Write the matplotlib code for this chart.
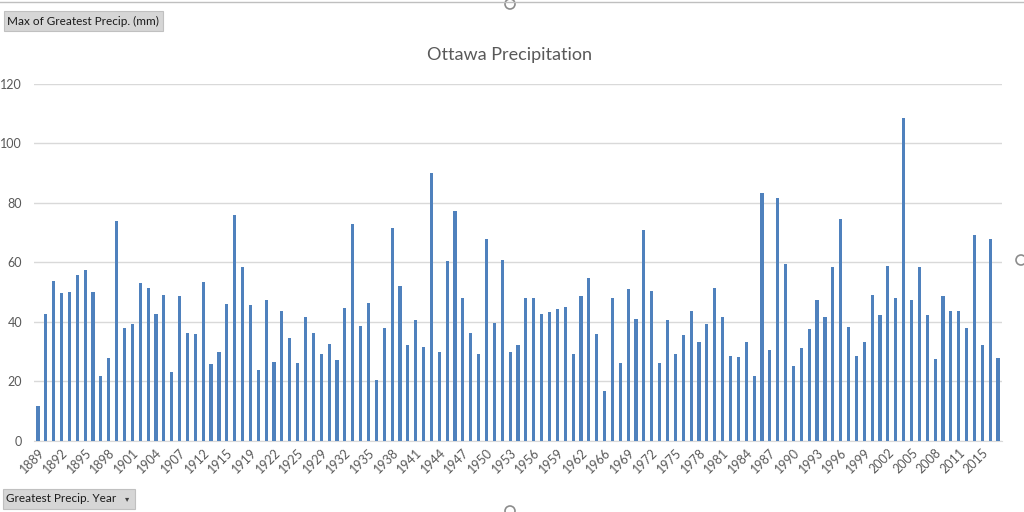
import matplotlib
matplotlib.use("Agg")
import matplotlib.pyplot as plt
from matplotlib.patches import Rectangle, Ellipse
from matplotlib.lines import Line2D

plt.rcParams['font.family'] = ['Lato', 'DejaVu Sans']

# years in the pivot (some years are missing from the source data)
years = (list(range(1889, 1908)) + [1910, 1911] + list(range(1912, 1917)) + [1918]
         + list(range(1919, 1927)) + [1928] + list(range(1929, 1964)) + [1965]
         + list(range(1966, 2013)) + list(range(2014, 2018)))

# max of greatest precipitation (mm)
precip = [
    11.8, 42.7, 53.6, 49.7, 49.9, 55.7, 57.5, 49.9, 21.6, 27.7,
    74.0, 37.9, 39.2, 52.9, 51.5, 42.5, 49.1, 23.2, 48.8, 36.1,
    35.9, 53.3, 25.7, 29.8, 46.1, 75.8, 58.5, 45.7, 23.8, 47.3,
    26.6, 43.8, 34.6, 26.2, 41.7, 36.3, 29.0, 32.4, 27.0, 44.7,
    73.0, 38.5, 46.3, 20.4, 37.8, 71.4, 52.1, 32.3, 40.5, 31.6,
    90.2, 29.8, 60.3, 77.4, 48.1, 36.1, 29.0, 67.9, 39.7, 60.8,
    30.0, 32.2, 48.1, 48.1, 42.5, 43.2, 44.3, 45.1, 29.3, 48.7,
    54.7, 35.9, 16.7, 48.1, 26.0, 51.0, 40.9, 71.0, 50.3, 26.2,
    40.6, 29.0, 35.4, 43.6, 33.1, 39.3, 51.5, 41.5, 28.5, 28.0,
    33.3, 21.7, 83.3, 30.5, 81.8, 59.5, 25.2, 31.2, 37.7, 47.3,
    41.5, 58.3, 74.7, 38.3, 28.6, 33.1, 49.0, 42.3, 58.9, 48.0,
    108.5, 47.3, 58.3, 42.3, 27.4, 48.7, 43.6, 43.6, 38.0, 69.2,
    32.2, 67.8, 27.8,
]

y_ticks = [0, 20, 40, 60, 80, 100, 120]

W, H = 1024, 512
fig = plt.figure(figsize=(W / 100, H / 100), dpi=100)
ax = fig.add_axes([34 / W, (H - 440.7) / H, (1002 - 34) / W, (440.7 - 84) / H])

x = list(range(len(years)))
ax.bar(x, precip, width=0.4, color='#4F81BD', zorder=3)

ax.set_xlim(-0.5, len(years) - 0.5)
ax.set_ylim(0, 120)
ax.set_yticks(y_ticks)
ax.yaxis.grid(True, color='#D9D9D9', linewidth=1, zorder=0)
for s in ['top', 'right', 'left']:
    ax.spines[s].set_visible(False)
ax.spines['bottom'].set_color('#D9D9D9')
ax.tick_params(axis='y', length=0, pad=8.5, labelsize=9, labelcolor='#595959')
ax.tick_params(axis='x', length=0, pad=4, labelsize=9, labelcolor='#595959')

ax.set_xticks(x[::3])
ax.set_xticklabels([str(years[i]) for i in x[::3]], rotation=45, ha='right',
                   rotation_mode='anchor')

fig.text(0.498, 1 - 55 / H, 'Ottawa Precipitation', ha='center', va='center',
         fontsize=13, color='#595959')

# chart border and selection handles
fig.add_artist(Line2D([0, 1], [1 - 2 / H, 1 - 2 / H], color='#BFBFBF', lw=1))
for cx, cy in [(510, 4), (1021, 260), (510, 511)]:
    fig.add_artist(Ellipse((cx / W, 1 - cy / H), 10 / W, 10 / H, facecolor='white',
                           edgecolor='#8C8C8C', lw=1.2))

# pivot field buttons
fig.add_artist(Rectangle((4 / W, 1 - 31 / H), 159 / W, 20 / H, facecolor='#D6D6D6',
                         edgecolor='#C0C0C0', lw=0.8))
fig.text(7 / W, 1 - 21 / H, 'Max of Greatest Precip. (mm)', ha='left', va='center',
         fontsize=8.5, color='#1A1A1A')
fig.add_artist(Rectangle((3 / W, 1 - 509 / H), 132 / W, 20 / H, facecolor='#D6D6D6',
                         edgecolor='#C0C0C0', lw=0.8))
fig.text(6 / W, 1 - 499 / H, 'Greatest Precip. Year', ha='left', va='center',
         fontsize=8.5, color='#1A1A1A')
fig.text(127 / W, 1 - 499 / H, '▾', ha='center', va='center', fontsize=6,
         color='#404040', family=['DejaVu Sans'])

fig.savefig('out.png', dpi=100)
